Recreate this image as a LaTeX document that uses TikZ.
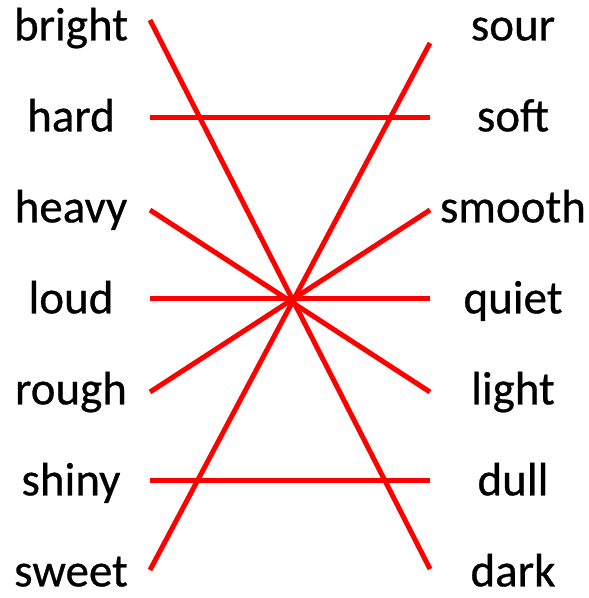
\documentclass[tikz,border=0pt]{standalone}
\usepackage{fontspec}
\setmainfont{Carlito}[FakeBold=0.6]
\usetikzlibrary{positioning}
\definecolor{PairRed}{HTML}{FF0000}

\begin{document}
\begin{tikzpicture}[x=1pt,y=-1pt,
    word/.style={font=\fontsize{47}{52}\selectfont,inner sep=0pt,anchor=mid},
    pair/.style={draw=PairRed,line width=5pt}
  ]
    \useasboundingbox (0,0) rectangle (589,598);
    % left column
    \node[word] (bright) at (71,38) {bright};
    \node[word] (hard) at (71,129) {hard};
    \node[word] (heavy) at (71,220) {heavy};
    \node[word] (loud) at (71,311) {loud};
    \node[word] (rough) at (71,402) {rough};
    \node[word] (shiny) at (71,493) {shiny};
    \node[word] (sweet) at (71,584) {sweet};
    % right column
    \node[word] (sour) at (513,38) {sour};
    \node[word] (soft) at (513,129) {soft};
    \node[word] (smooth) at (513,220) {smooth};
    \node[word] (quiet) at (513,311) {quiet};
    \node[word] (light) at (513,402) {light};
    \node[word] (dull) at (513,493) {dull};
    \node[word] (dark) at (513,584) {dark};

    % line ends
    \coordinate (bright-end) at (150,20);
    \coordinate (hard-end) at (150,117);
    \coordinate (heavy-end) at (150,210);
    \coordinate (loud-end) at (150,298);
    \coordinate (rough-end) at (150,392);
    \coordinate (shiny-end) at (150,480);
    \coordinate (sweet-end) at (150,570);
    \coordinate (sour-end) at (430,43);
    \coordinate (soft-end) at (430,117);
    \coordinate (smooth-end) at (430,210);
    \coordinate (quiet-end) at (430,298);
    \coordinate (light-end) at (430,392);
    \coordinate (dull-end) at (430,480);
    \coordinate (dark-end) at (430,569);

    \draw[pair] (bright-end)--(dark-end);
    \draw[pair] (hard-end)--(soft-end);
    \draw[pair] (heavy-end)--(light-end);
    \draw[pair] (loud-end)--(quiet-end);
    \draw[pair] (rough-end)--(smooth-end);
    \draw[pair] (shiny-end)--(dull-end);
    \draw[pair] (sweet-end)--(sour-end);
  \end{tikzpicture}
\end{document}
